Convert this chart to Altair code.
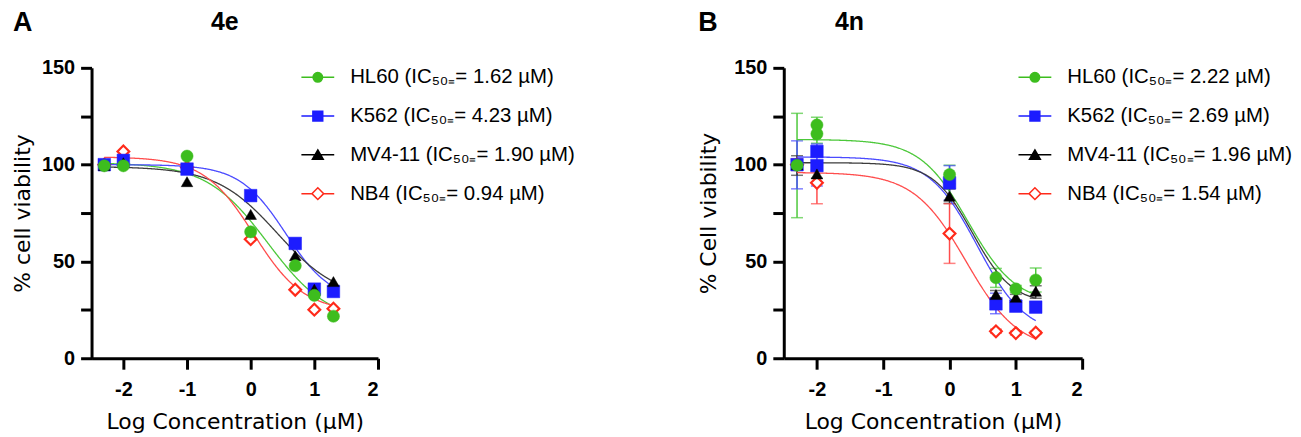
import altair as alt
import pandas as pd

FONT = "Liberation Sans"
TITLE_FONT = "DejaVu Sans"

# ---------------- series and styles ----------------
SERIES = ["HL60", "K562", "MV4-11", "NB4"]
CURVE_KEYS = ["s0", "s1", "s2", "s3"]
DRAW_ORDER = [3, 1, 2, 0]  # NB4 at the back, HL60 in front
MARKER_SHAPES = ["circle", "square", "triangle-up", "diamond"]
MARKER_SIZES = [150, 160, 135, 140]
MARKER_FILL = ["#3dbd1e", "#1c1cff", "#000000", "#ffffff"]
MARKER_STROKE = ["#3dbd1e", "#1c1cff", "#000000", "#ff2a1a"]
MARKER_STROKE_WIDTH = [0.5, 0.5, 0.5, 2.2]
CURVE_COLORS = ["#4cc83a", "#4b4bff", "#3c3c3c", "#ff4d4d"]
LEGEND_PATHS = [
    "M-1,0H1M-0.29,0A0.29,0.29,0,1,0,0.29,0A0.29,0.29,0,1,0,-0.29,0Z",
    "M-1,0H1M-0.3,-0.3H0.3V0.3H-0.3Z",
    "M-1,0H1M0,-0.3L0.33,0.27H-0.33Z",
    "M-1,0H-0.36M0.36,0H1M0,-0.36L0.36,0L0,0.36L-0.36,0Z",
]

# ---------------- texts ----------------
PANEL_LETTERS = ["A", "B"]
COMPOUNDS = ["4e", "4n"]
Y_TITLES = ["% cell viability", "% Cell viability"]
X_TITLE = "Log Concentration (µM)"
X_TICKS = [-2, -1, 0, 1, 2]
Y_TICKS = [0, 25, 50, 75, 100, 125, 150]
X_DOMAIN = [-2.5, 2]
Y_DOMAIN = [0, 150]
A_IC50 = ["1.62", "4.23", "1.90", "0.94"]
B_IC50 = ["2.22", "2.69", "1.96", "1.54"]

# ---------------- panel A data ----------------
A_X = [-2.3, -2, -1, 0, 0.7, 1, 1.3]
A_HL60 = [99.4, 99.4, 104.4, 65.3, 47.8, 32.5, 21.7]
A_K562 = [100.0, 102.2, 97.7, 84.0, 59.3, 35.7, 34.5]
A_MV411 = [99.5, 101.0, 91.2, 74.3, 53.0, 35.7, 39.6]
A_NB4 = [100.0, 106.8, 98.5, 61.5, 35.4, 25.1, 25.6]
# fitted 4-parameter logistic curves: top, bottom, logIC50, hill
A_TOP = [101, 100, 99, 104]
A_BOTTOM = [18, 29, 30, 24]
A_LOGIC50 = [0.27, 0.55, 0.42, 0.05]
A_HILL = [0.9, 1.2, 0.9, 1.1]

# ---------------- panel B data ----------------
B_X = [-2.3, -2, 0, 0.7, 1, 1.3]
B_HL60 = [99.7, 120.5, 94.9, 41.6, 35.8, 40.4]
B_K562 = [100.0, 106.8, 90.6, 28.1, 26.9, 26.4]
B_MV411 = [100.0, 95.2, 83.7, 32.9, 31.5, 34.6]
B_NB4 = [100.0, 90.6, 64.4, 13.9, 13.0, 13.2]
B_EXTRA_X = [-2, -2]
B_EXTRA_SERIES = ["HL60", "K562"]
B_EXTRA_Y = [115.9, 99.5]
B_HL60_LO = [72.6, 111.0, 90.1, 36.6, 34.0, 34.2]
B_HL60_HI = [126.5, 124.5, 99.7, 46.4, 37.6, 46.6]
B_K562_LO = [87.5, 89.0, 81.7, 23.0, 24.5, 24.0]
B_K562_HI = [112.3, 110.7, 99.5, 33.6, 29.0, 28.8]
B_MV411_LO = [94.5, 93.0, 80.0, 31.0, 30.0, 31.0]
B_MV411_HI = [104.6, 97.5, 87.4, 35.0, 33.0, 37.5]
B_NB4_LO = [97.0, 79.8, 49.0, 13.0, 12.0, 12.5]
B_NB4_HI = [103.0, 101.4, 79.8, 15.0, 14.0, 14.0]
B_TOP = [113, 104, 101, 96]
B_BOTTOM = [28, 12, 28, 4]
B_LOGIC50 = [0.28, 0.42, 0.35, 0.25]
B_HILL = [1.2, 1.2, 1.45, 1.1]

CURVE_START, CURVE_STOP, CURVE_STEP = -2.3, 1.3005, 0.01


def x_enc(field="x"):
    return alt.X(
        f"{field}:Q",
        scale=alt.Scale(domain=X_DOMAIN, nice=False, zero=False),
        axis=alt.Axis(
            title=X_TITLE, values=X_TICKS, tickSize=11, labelPadding=10,
            titlePadding=13, labelExpr="'' + datum.value",
        ),
    )


def y_enc(field, title, title_pad):
    return alt.Y(
        f"{field}:Q",
        scale=alt.Scale(domain=Y_DOMAIN, nice=False, zero=False),
        axis=alt.Axis(
            title=title, values=Y_TICKS, tickSize=11, labelPadding=6,
            titlePadding=title_pad,
            labelExpr="datum.value % 50 == 0 ? '' + datum.value : ''",
        ),
    )


def curve_color():
    return alt.Color("k:N", scale=alt.Scale(domain=CURVE_KEYS, range=CURVE_COLORS), legend=None)


def make_panel(i, xs, series_vals, extra, errs, fit, ic50, legend_x, letter_x, title_x, y_pad):
    ytitle = Y_TITLES[i]
    layers = []

    # error bars
    if errs is not None:
        rows = []
        for si, (lo, hi) in enumerate(errs):
            for x, a, b in zip(xs, lo, hi):
                rows.append({"x": x, "lo": a, "hi": b, "k": CURVE_KEYS[si]})
        edf = pd.DataFrame(rows)
        base = alt.Chart(edf)
        layers.append(base.mark_rule(strokeWidth=1.5).encode(
            x=x_enc(), y=y_enc("lo", ytitle, y_pad), y2="hi:Q", color=curve_color()))
        for f in ["lo", "hi"]:
            layers.append(base.mark_tick(orient="horizontal", size=12, thickness=1.5).encode(
                x=x_enc(), y=y_enc(f, ytitle, y_pad), color=curve_color()))

    # fitted curves
    top, bottom, logic, hill = fit
    calc = {
        CURVE_KEYS[si]: f"{bottom[si]} + ({top[si]} - {bottom[si]}) / "
                        f"(1 + pow(10, {hill[si]} * (datum.x - {logic[si]})))"
        for si in range(len(SERIES))
    }
    curves = (
        alt.Chart(alt.sequence(CURVE_START, CURVE_STOP, CURVE_STEP, as_="x"))
        .transform_calculate(**calc)
        .transform_fold(CURVE_KEYS, as_=["k", "y"])
        .mark_line(strokeWidth=1.3)
        .encode(x=x_enc(), y=y_enc("y", ytitle, y_pad), color=curve_color(), detail="k:N")
    )
    layers.append(curves)

    # data points
    rows = []
    for si, vals in enumerate(series_vals):
        for x, v in zip(xs, vals):
            rows.append({"x": x, "y": v, "series": SERIES[si]})
    if extra is not None:
        for x, s, v in zip(*extra):
            rows.append({"x": x, "y": v, "series": s})
    pdf = pd.DataFrame(rows)
    for si in DRAW_ORDER:
        layers.append(
            alt.Chart(pdf)
            .transform_filter(alt.datum.series == SERIES[si])
            .mark_point(
                shape=MARKER_SHAPES[si], size=MARKER_SIZES[si], filled=True,
                fill=MARKER_FILL[si], stroke=MARKER_STROKE[si],
                strokeWidth=MARKER_STROKE_WIDTH[si], opacity=1,
            )
            .encode(x=x_enc(), y=y_enc("y", ytitle, y_pad))
        )

    # legend
    labels = [f"{s} (IC₅₀₌= {v} µM)" for s, v in zip(SERIES, ic50)]
    leg = alt.Legend(
        title=None, orient="none", legendX=legend_x, legendY=-8, padding=0,
        labelFont=FONT, labelFontSize=20.5, labelColor="black", labelLimit=500,
        symbolSize=1089, symbolStrokeWidth=1.5, symbolOpacity=1,
        labelOffset=15, rowPadding=11,
    )
    ldf = pd.DataFrame({"label": labels})
    layers.append(
        alt.Chart(ldf).mark_point(filled=True, opacity=0).encode(
            x=alt.value(0), y=alt.value(0),
            shape=alt.Shape("label:N", scale=alt.Scale(domain=labels, range=LEGEND_PATHS), legend=leg),
            fill=alt.Fill("label:N", scale=alt.Scale(domain=labels, range=MARKER_FILL), legend=leg),
            stroke=alt.Stroke("label:N", scale=alt.Scale(domain=labels, range=MARKER_STROKE), legend=leg),
        )
    )

    # panel letter and compound title
    layers.append(
        alt.Chart(pd.DataFrame({"t": [PANEL_LETTERS[i]]}))
        .mark_text(font=FONT, fontSize=27, fontWeight="bold", align="left", baseline="top", color="black")
        .encode(text="t:N", x=alt.value(letter_x), y=alt.value(-58))
    )
    layers.append(
        alt.Chart(pd.DataFrame({"t": [COMPOUNDS[i]]}))
        .mark_text(font=FONT, fontSize=25, fontWeight="bold", align="center", baseline="top", color="black")
        .encode(text="t:N", x=alt.value(title_x), y=alt.value(-58))
    )

    return alt.layer(*layers).properties(width=288 if i == 0 else 300, height=292)


panel_a = make_panel(
    0, A_X, [A_HL60, A_K562, A_MV411, A_NB4], None, None,
    (A_TOP, A_BOTTOM, A_LOGIC50, A_HILL), A_IC50,
    legend_x=210, letter_x=-79, title_x=134, y_pad=7,
)
panel_b = make_panel(
    1, B_X, [B_HL60, B_K562, B_MV411, B_NB4], (B_EXTRA_X, B_EXTRA_SERIES, B_EXTRA_Y),
    [(B_HL60_LO, B_HL60_HI), (B_K562_LO, B_K562_HI), (B_MV411_LO, B_MV411_HI), (B_NB4_LO, B_NB4_HI)],
    (B_TOP, B_BOTTOM, B_LOGIC50, B_HILL), B_IC50,
    legend_x=235, letter_x=-86, title_x=66, y_pad=13.6,
)

chart = (
    alt.hconcat(panel_a, panel_b, spacing=408, bounds="flush")
    .resolve_scale(x="independent", y="independent", color="independent",
                   fill="independent", stroke="independent", shape="independent")
    .properties(padding={"left": 3, "top": 0, "right": 0, "bottom": 0})
    .configure_view(stroke=None)
    .configure_axis(
        grid=False, domainColor="black", domainWidth=3, tickColor="black", tickWidth=3,
        labelFont=FONT, labelFontSize=20, labelFontWeight="bold", labelColor="black",
        titleFont=TITLE_FONT, titleFontSize=22, titleFontWeight="normal", titleColor="black",
    )
)

chart.save("out.html", embed_options={"renderer": "svg", "actions": False})
